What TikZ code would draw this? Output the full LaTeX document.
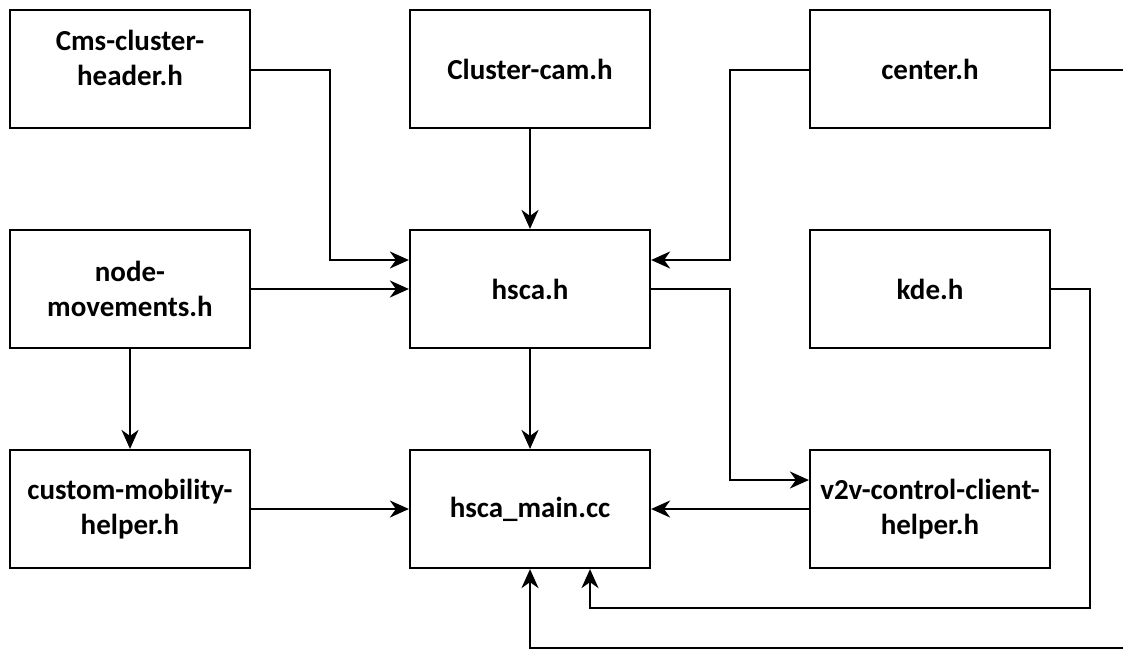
\documentclass[tikz,border=0pt]{standalone}
\usepackage{fontspec}
\setmainfont{Carlito}
\usetikzlibrary{arrows.meta}
\begin{document}
\begin{tikzpicture}[x=1pt,y=-1pt,
  box/.style={draw,line width=2.2pt,minimum width=240pt,minimum height=118pt,align=center,font=\bfseries\fontsize{29}{35}\selectfont,inner sep=0pt},
  txt/.style={align=center,font=\bfseries\fontsize{29}{35}\selectfont,inner sep=0pt},
  conn/.style={line width=2.2pt,-{Stealth[length=19pt,width=17pt,inset=6pt]}},
  wire/.style={line width=2.2pt}]
\useasboundingbox (0,0) rectangle (1123,649);
\node[box] (cms) at (130,69) {};
\node[txt] (cmst) at (130,58) {Cms-cluster-\\header.h};
\node[box] (cam) at (530,69) {Cluster-cam.h};
\node[box] (center) at (930,69) {center.h};
\node[box] (nm) at (130,289) {node-\\movements.h};
\node[box] (hsca) at (530,289) {hsca.h};
\node[box] (kde) at (930,289) {kde.h};
\node[box] (cmh) at (130,509) {custom-mobility-\\helper.h};
\node[box] (main) at (530,509) {hsca\_main.cc};
\node[box] (v2v) at (930,509) {v2v-control-client-\\helper.h};
\coordinate (eR) at (1123,70);
\coordinate (eB) at (1123,648);
\draw[conn] (cms.east |- 0,70) -| (330,260) -- (hsca.west |- 0,260);
\draw[conn] (cam) -- (hsca);
\draw[conn] (center.west |- 0,70) -| (730,260) -- (hsca.east |- 0,260);
\draw[wire] (center.east |- 0,70) -- (eR);
\draw[conn] (nm.east) -- (hsca.west);
\draw[conn] (nm) -- (cmh);
\draw[conn] (hsca) -- (main);
\draw[conn] (hsca.east) -| (730,480) -- (v2v.west |- 0,480);
\draw[conn] (cmh.east) -- (main.west);
\draw[conn] (v2v.west) -- (main.east);
\draw[conn] (kde.east) -| (1090,608) -| (main.south -| 590,0);
\draw[conn] (eB) -| (main.south);
\end{tikzpicture}
\end{document}
